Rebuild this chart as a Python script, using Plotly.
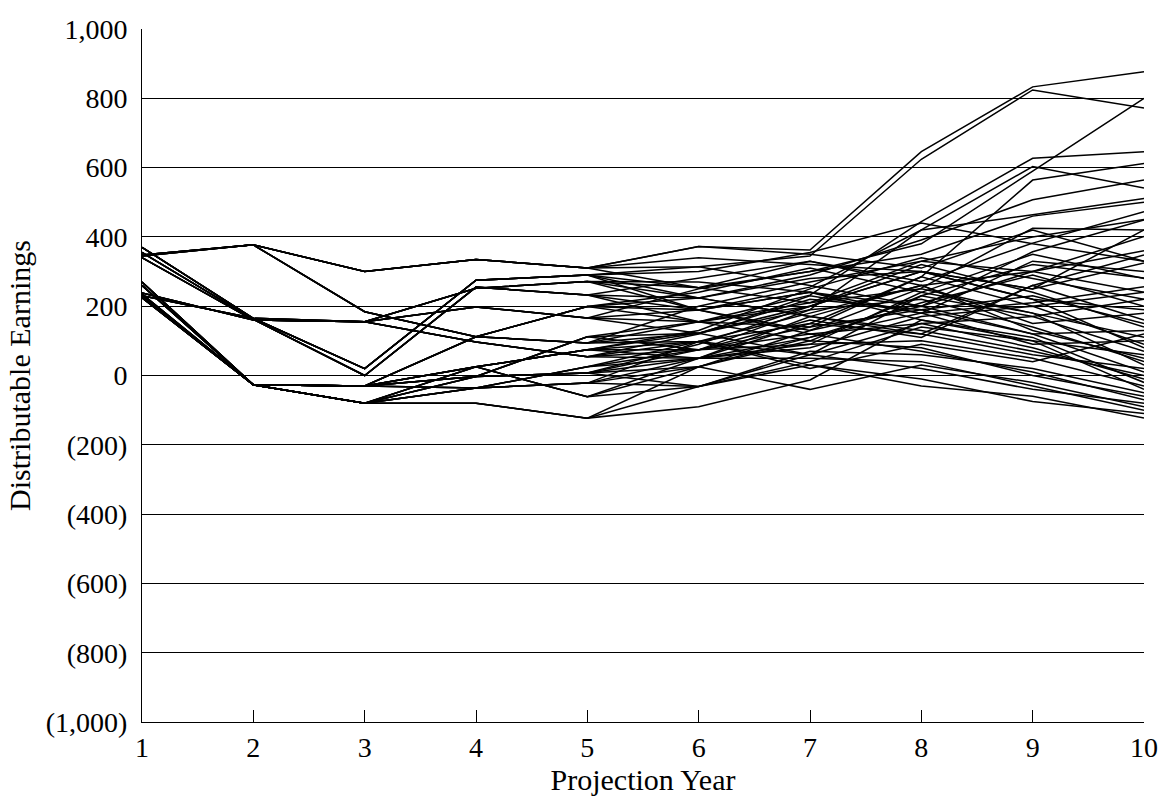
import plotly.graph_objects as go

years = [1, 2, 3, 4, 5, 6, 7, 8, 9, 10]

# Early-year paths (years 1-5) shared by groups of scenarios
E1 = [348, 377, 300, 335, 310]
E2 = [345, 377, 184, 112, 94]
E3 = [370, 165, 20, 275, 290]
E4 = [355, 162, 0, 255, 232]
E5 = [340, 160, 155, 198, 166]
E6 = [230, 165, 155, 97, 54]
E7 = [270, -27, -30, 25, 74]
E8 = [260, -27, -30, -3, 7]
E9 = [235, -27, -80, -36, -22]
E10 = [225, -27, -80, -80, -123]
E11 = [228, -27, -30, 112, 199]
E12 = [232, -27, -80, 25, -61]
E13 = [226, -27, -30, -36, 25]
E14 = [238, 160, 155, 252, 271]
E15 = [224, -27, -80, -3, 112]

# Later-year values (years 6-10) for each scenario
scenarios = [
    E1 + [372, 362, 646, 833, 877],
    E1 + [314, 345, 624, 824, 772],
    E1 + [253, 300, 380, 590, 800],
    E1 + [372, 350, 310, 420, 330],
    E1 + [340, 320, 300, 250, 420],
    E2 + [155, 232, 444, 627, 646],
    E2 + [122, 190, 420, 603, 541],
    E2 + [98, 150, 285, 564, 612],
    E2 + [200, 270, 330, 400, 450],
    E3 + [224, 290, 391, 507, 564],
    E3 + [189, 255, 420, 464, 511],
    E3 + [253, 330, 271, 382, 473],
    E3 + [314, 260, 200, 357, 449],
    E3 + [300, 355, 440, 380, 330],
    E4 + [189, 130, 252, 425, 420],
    E4 + [155, 210, 330, 300, 401],
    E4 + [224, 170, 120, 260, 348],
    E4 + [280, 330, 260, 300, 240],
    E5 + [122, 200, 300, 250, 325],
    E5 + [155, 100, 230, 320, 281],
    E5 + [189, 240, 180, 210, 256],
    E5 + [250, 300, 350, 460, 500],
    E6 + [74, 140, 285, 200, 240],
    E6 + [50, 110, 210, 290, 200],
    E6 + [98, 60, 150, 170, 220],
    E6 + [120, 230, 180, 330, 300],
    E7 + [98, 180, 260, 150, 180],
    E7 + [122, 220, 190, 230, 150],
    E7 + [50, 90, 240, 180, 110],
    E7 + [74, 160, 110, 260, 160],
    E7 + [130, 250, 340, 280, 220],
    E8 + [25, 130, 200, 120, 130],
    E8 + [50, 80, 170, 200, 90],
    E8 + [-32, 40, 140, 100, 60],
    E8 + [74, 190, 220, 140, 40],
    E8 + [90, 200, 300, 220, 190],
    E9 + [25, 110, 180, 90, 100],
    E9 + [50, 150, 120, 60, 20],
    E9 + [-32, 60, 230, 170, 70],
    E9 + [98, 20, 90, 40, 120],
    E10 + [-90, -13, 160, 110, -20],
    E10 + [-32, 70, 60, 20, -50],
    E10 + [25, -40, 30, -20, -90],
    E11 + [224, 170, 260, 130, 50],
    E11 + [189, 120, 150, 80, -10],
    E11 + [155, 200, 320, 240, 140],
    E11 + [240, 310, 240, 350, 280],
    E12 + [25, 100, 80, 0, -60],
    E12 + [-32, 30, -30, -60, -123],
    E12 + [50, 50, 40, -30, -100],
    E13 + [74, 90, 100, 50, -30],
    E13 + [50, 170, 130, 70, 0],
    E13 + [98, 30, -10, -75, -110],
    E14 + [253, 210, 250, 180, 30],
    E14 + [224, 280, 300, 220, 80],
    E14 + [189, 240, 160, 100, -40],
    E14 + [270, 240, 200, 300, 360],
    E15 + [122, 60, 20, -40, -80],
    E15 + [74, 120, 70, 10, -70],
    E15 + [155, 140, 190, 120, 10],
]

ytick_vals = [1000, 800, 600, 400, 200, 0, -200, -400, -600, -800, -1000]
ytick_text = ["1,000", "800", "600", "400", "200", "0", "(200)", "(400)", "(600)", "(800)", "(1,000)"]

fig = go.Figure()
for i, s in enumerate(scenarios):
    fig.add_trace(go.Scatter(x=years, y=s, mode="lines",
                             line=dict(color="black", width=1.5),
                             showlegend=False, hoverinfo="skip"))

font_family = "Liberation Serif, Times New Roman, serif"
fig.update_layout(
    width=1169, height=803,
    margin=dict(l=142, r=25, t=29, b=81),
    paper_bgcolor="white", plot_bgcolor="white",
    font=dict(family=font_family, color="black", size=28),
    showlegend=False,
)
fig.update_xaxes(
    range=[1, 10], tickvals=years, ticktext=[str(y) for y in years],
    ticks="inside", ticklen=12, tickcolor="black", tickwidth=1,
    showline=True, linecolor="black", linewidth=1,
    showgrid=False, zeroline=False,
    tickfont=dict(size=28, family=font_family),
    title=dict(text="Projection Year", font=dict(size=30, family=font_family), standoff=2),
)
fig.update_yaxes(
    range=[-1000, 1000], tickvals=ytick_vals, ticktext=ytick_text,
    ticks="", showline=True, linecolor="black", linewidth=1,
    showgrid=True, gridcolor="black", gridwidth=1,
    zeroline=True, zerolinecolor="black", zerolinewidth=1,
    tickfont=dict(size=28, family=font_family),
    ticklabelstandoff=8,
    title=dict(text="Distributable Earnings", font=dict(size=30, family=font_family), standoff=6),
)

fig.write_html("out.html")
